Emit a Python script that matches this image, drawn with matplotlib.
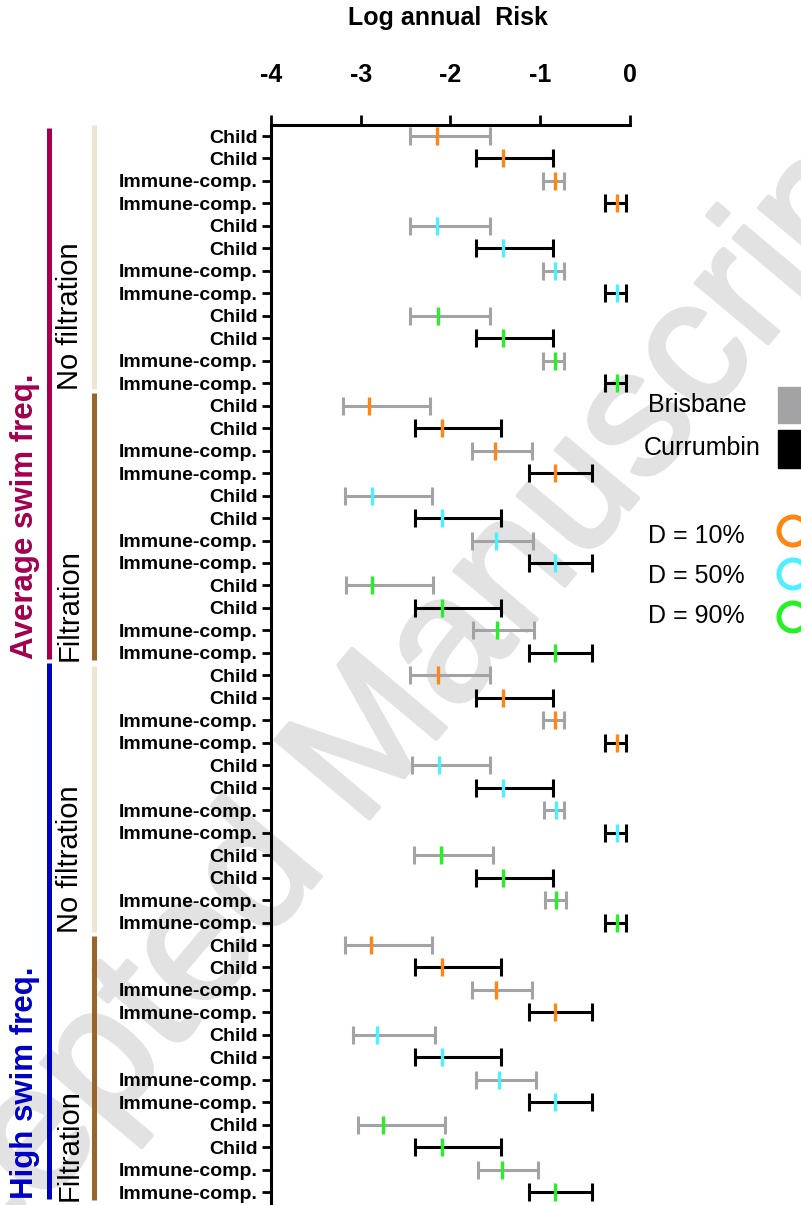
import numpy as np
import matplotlib
matplotlib.use("Agg")
import matplotlib.pyplot as plt
import matplotlib.patheffects as pe
from matplotlib.patches import Rectangle, Circle

plt.rcParams["font.family"] = ["Liberation Sans", "DejaVu Sans"]

W, H = 801, 1205

# row layout, top to bottom
swim_blocks = ["Average swim freq.", "High swim freq."]
filt_blocks = ["No filtration", "Filtration"]
d_levels = ["D = 10%", "D = 50%", "D = 90%"]
groups = ["Child", "Child", "Immune-comp.", "Immune-comp."]
sites = ["Brisbane", "Currumbin", "Brisbane", "Currumbin"]

# log annual risk: lower bound, median, upper bound
risk_lo = [
    -2.45, -1.72, -0.97, -0.28,
    -2.45, -1.72, -0.97, -0.28,
    -2.45, -1.72, -0.97, -0.28,
    -3.20, -2.39, -1.76, -1.12,
    -3.17, -2.39, -1.76, -1.12,
    -3.16, -2.39, -1.75, -1.12,
    -2.45, -1.72, -0.97, -0.28,
    -2.43, -1.72, -0.96, -0.28,
    -2.41, -1.72, -0.95, -0.28,
    -3.17, -2.39, -1.76, -1.12,
    -3.09, -2.39, -1.72, -1.12,
    -3.03, -2.39, -1.69, -1.12,
]
risk_mid = [
    -2.15, -1.42, -0.84, -0.15,
    -2.15, -1.42, -0.84, -0.15,
    -2.14, -1.42, -0.84, -0.15,
    -2.91, -2.10, -1.50, -0.84,
    -2.88, -2.10, -1.49, -0.84,
    -2.87, -2.10, -1.48, -0.84,
    -2.14, -1.42, -0.84, -0.15,
    -2.13, -1.42, -0.83, -0.15,
    -2.11, -1.42, -0.83, -0.15,
    -2.89, -2.10, -1.49, -0.84,
    -2.82, -2.10, -1.46, -0.84,
    -2.75, -2.10, -1.43, -0.84,
]
risk_hi = [
    -1.56, -0.86, -0.74, -0.05,
    -1.56, -0.86, -0.74, -0.05,
    -1.56, -0.86, -0.74, -0.05,
    -2.23, -1.44, -1.09, -0.42,
    -2.21, -1.44, -1.08, -0.42,
    -2.20, -1.44, -1.07, -0.42,
    -1.56, -0.86, -0.74, -0.05,
    -1.56, -0.86, -0.73, -0.05,
    -1.53, -0.86, -0.71, -0.05,
    -2.21, -1.44, -1.09, -0.42,
    -2.17, -1.44, -1.05, -0.42,
    -2.06, -1.44, -1.03, -0.42,
]

site_colors = {"Brisbane": "#a3a3a6", "Currumbin": "#000000"}
d_colors = {"D = 10%": "#ff8514", "D = 50%": "#4df0ff", "D = 90%": "#26f026"}
swim_colors = ["#a2004e", "#0000c4"]
filt_colors = ["#eee6cf", "#9a652b"]

row_labels, row_sites, row_d = [], [], []
for sw in swim_blocks:
    for fb in filt_blocks:
        for d in d_levels:
            row_labels += groups
            row_sites += sites
            row_d += [d] * len(groups)

lo = np.array(risk_lo)
mid = np.array(risk_mid)
hi = np.array(risk_hi)
y = np.arange(len(mid))
row_sites = np.array(row_sites)
row_d = np.array(row_d)

fig = plt.figure(figsize=(W / 100, H / 100), dpi=100)

# overlay in pixel units for the side annotations, legend and watermark
ov = fig.add_axes([0, 0, 1, 1], zorder=0)
ov.set_xlim(0, W)
ov.set_ylim(H, 0)
ov.axis("off")

wm = "#e2e2e2"
ov.text(350, 770, "Accepted Manuscript", rotation=50, fontsize=128,
        color=wm, ha="center", va="center", zorder=0,
        path_effects=[pe.withStroke(linewidth=3, foreground=wm)])

ax = fig.add_axes([271 / W, 0, (630 - 271) / W, 1 - 125 / H], zorder=1)
ax.patch.set_alpha(0)

for site, color in site_colors.items():
    m = row_sites == site
    ax.errorbar(mid[m], y[m], xerr=[mid[m] - lo[m], hi[m] - mid[m]], fmt="none",
                ecolor=color, elinewidth=2.2, capsize=6.5, capthick=2.2)
for d, color in d_colors.items():
    m = row_d == d
    ax.plot(mid[m], y[m], ls="none", marker="|", ms=13, mew=2.4, color=color)

ax.set_xlim(-4, 0)
ax.set_ylim(47.57, -0.49)
ax.xaxis.tick_top()
ax.set_xticks([-4, -3, -2, -1, 0])
ax.set_xticklabels(["-4", "-3", "-2", "-1", "0"], fontsize=18, fontweight="bold")
ax.tick_params(axis="x", length=7, width=2, pad=20)
ax.set_yticks(y)
ax.set_yticklabels(row_labels, fontsize=14, fontweight="bold")
ax.tick_params(axis="y", length=6.5, width=2, pad=3)
for s in ["right", "bottom"]:
    ax.spines[s].set_visible(False)
for s in ["top", "left"]:
    ax.spines[s].set_linewidth(2.2)

fig.text(448 / W, 1 - 18 / H, "Log annual  Risk", ha="center", va="center",
         fontsize=18, fontweight="bold")

# group brackets on the left
swim_spans = [(128, 659), (663, 1199)]
filt_spans = [(125, 389), (393, 660), (666, 932), (936, 1200)]
for (a, b), c, name in zip(swim_spans, swim_colors, swim_blocks):
    ov.plot([49, 49], [a, b], color=c, lw=3.6, solid_capstyle="butt")
    ov.text(25, b, name, rotation=90, ha="center", va="bottom", fontsize=22.5,
            fontweight="bold", color=c)
for i, (a, b) in enumerate(filt_spans):
    ov.plot([93.5, 93.5], [a, b], color=filt_colors[i % 2], lw=3.6,
            solid_capstyle="butt")
    ov.text(70, b + 1, filt_blocks[i % 2], rotation=90, ha="center", va="bottom",
            fontsize=21, color="black")

# legend at right edge
ov.text(648, 405, "Brisbane", fontsize=18, va="center", ha="left")
ov.text(644, 448, "Currumbin", fontsize=18, va="center", ha="left")
ov.add_patch(Rectangle((778, 387), 40, 36, color=site_colors["Brisbane"]))
ov.add_patch(Rectangle((778, 430), 40, 38, color=site_colors["Currumbin"]))
for k, d in enumerate(d_levels):
    ov.text(648, 536 + 40 * k, d, fontsize=18, va="center", ha="left")
    ov.add_patch(Circle((793, 531 + 43 * k), 14, fill=False,
                        ec=d_colors[d], lw=3.6))

fig.savefig("out.png", dpi=100)
